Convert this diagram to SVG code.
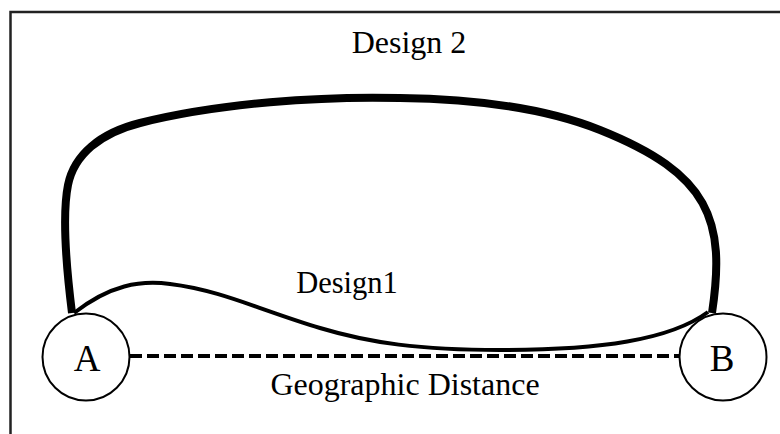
<svg xmlns="http://www.w3.org/2000/svg" width="780" height="434" viewBox="0 0 780 434">
  <style>
    .lbl { font-family: "Liberation Serif", "Times New Roman", serif; fill: #000; text-anchor: middle; }
    .node { fill: #fff; stroke: #000; stroke-width: 2; }
    .frame { fill: none; stroke: #222; stroke-width: 2.5; }
    .d2 { fill: none; stroke: #000; stroke-width: 8; stroke-linecap: butt; }
    .d1 { fill: none; stroke: #000; stroke-width: 4; }
    .geo { fill: none; stroke: #000; stroke-width: 4; stroke-dasharray: 12 5; }
  </style>
  <rect width="780" height="434" fill="#fff"/>
  <path class="frame" d="M10.5,434 V12 H780"/>
  <g id="connectors">
    <path id="design2" class="d2" d="M72,313 C66,265 62,215 68,185 C74,155 100,133 140,123 C220,103 320,96 400,98 C480,99 550,110 600,130 C710,174 726,220 712,313"/>
    <path id="design1" class="d1" d="M74,313 C110,285 140,280 170,284 C220,290 260,310 320,328 C370,343 420,350 500,350 C600,350 670,340 708,312"/>
    <line id="geo" class="geo" x1="130" y1="356" x2="680" y2="356"/>
  </g>
  <g id="nodeA">
    <circle class="node" cx="86" cy="357" r="43.5"/>
    <text class="lbl" x="87" y="371" font-size="37">A</text>
  </g>
  <g id="nodeB">
    <circle class="node" cx="723" cy="357" r="43.5"/>
    <text class="lbl" x="722" y="371" font-size="37">B</text>
  </g>
  <g id="label-design2">
    <text class="lbl" x="409" y="53" font-size="32">Design 2</text>
  </g>
  <g id="label-design1">
    <text class="lbl" x="347" y="293" font-size="30.5">Design1</text>
  </g>
  <g id="label-geo">
    <text class="lbl" x="405" y="395" font-size="32">Geographic Distance</text>
  </g>
</svg>
